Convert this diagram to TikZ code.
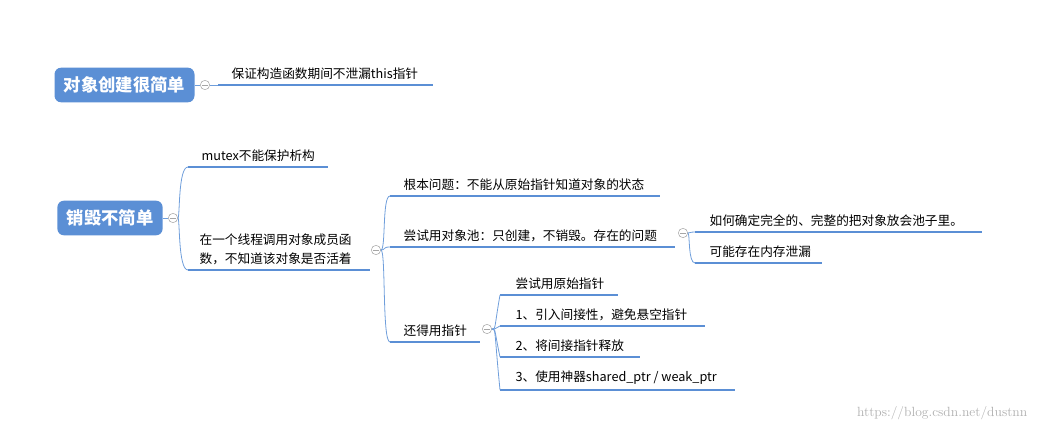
\documentclass[tikz,border=0pt]{standalone}
\usepackage{fontspec}
\newfontfamily\cjk{Noto Sans CJK SC}
\definecolor{mapblue}{HTML}{5B8FD5}
\definecolor{linkblue}{HTML}{6F9EDB}
\tikzset{
  root/.style={fill=mapblue, rounded corners=5pt, text=white, font=\cjk\bfseries\fontsize{13}{15}\selectfont, inner xsep=7pt, minimum height=26pt},
  leaf/.style={anchor=south west, font=\cjk\fontsize{9.5}{14}\selectfont, inner sep=1pt, align=left},
  uline/.style={draw=mapblue, line width=1.5pt},
  link/.style={draw=linkblue, line width=0.6pt},
  fold/.style={circle, draw=gray!70, fill=white, minimum size=7pt, inner sep=0pt,
    path picture={\draw[gray!70] ([xshift=-2pt]path picture bounding box.center) -- ([xshift=2pt]path picture bounding box.center);}}
}
\begin{document}
\begin{tikzpicture}[x=0.75pt, y=-0.75pt]
\useasboundingbox (0,0) rectangle (1040,435);

% first branch
\node[root] (create) at (124.5,85) {对象创建很简单};
\node[fold] (f1) at (205,85) {};
\draw[link] (create.east) -- (f1.west);
\coordinate (u0a) at (218,85); \coordinate (u0b) at (433,85);
\draw[link] (f1.east) -- (u0a);
\draw[uline] (u0a) -- (u0b);
\node[leaf] (keep) at (230,81) {保证构造函数期间不泄漏this指针};

% second branch
\node[root] (destroy) at (110,218) {销毁不简单};
\node[fold] (f2) at (173,218) {};
\draw[link] (destroy.east) -- (f2.west);

\coordinate (u1a) at (188,167); \coordinate (u1b) at (328,167);
\coordinate (u2a) at (188,270); \coordinate (u2b) at (370,270);
\draw[uline] (u1a) -- (u1b);
\draw[uline] (u2a) -- (u2b);
\draw[link] (f2.east) .. controls (180,218) and (178,167) .. (u1a);
\draw[link] (f2.east) .. controls (180,218) and (178,270) .. (u2a);
\node[leaf] (mutex) at (200,163) {mutex不能保护析构};
\node[leaf] (alive) at (198,266) {在一个线程调用对象成员函\\数，不知道该对象是否活着};

\node[fold] (f3) at (376,250) {};
\coordinate (u3a) at (390,196); \coordinate (u3b) at (660,196);
\coordinate (u4a) at (390,247); \coordinate (u4b) at (675,247);
\coordinate (u5a) at (390,342); \coordinate (u5b) at (480,342);
\foreach \a/\b in {u3a/u3b,u4a/u4b,u5a/u5b} \draw[uline] (\a) -- (\b);
\draw[link] (f3.east) .. controls (386,250) and (382,196) .. (u3a);
\draw[link] (f3.east) .. controls (386,250) and (382,247) .. (u4a);
\draw[link] (f3.east) .. controls (386,250) and (382,342) .. (u5a);
\node[leaf] (root) at (402,192) {根本问题：不能从原始指针知道对象的状态};
\node[leaf] (pool) at (402,243) {尝试用对象池：只创建，不销毁。存在的问题};
\node[leaf] (ptr) at (402,338) {还得用指针};

\node[fold] (f4) at (683,233) {};
\coordinate (u6a) at (695,232); \coordinate (u6b) at (982,232);
\coordinate (u7a) at (695,263); \coordinate (u7b) at (822,263);
\draw[uline] (u6a) -- (u6b);
\draw[uline] (u7a) -- (u7b);
\draw[link] (f4.east) .. controls (690,233) and (690,232) .. (u6a);
\draw[link] (f4.east) .. controls (690,233) and (688,263) .. (u7a);
\node[leaf] (whole) at (708,228) {如何确定完全的、完整的把对象放会池子里。};
\node[leaf] (leak) at (708,259) {可能存在内存泄漏};

\node[fold] (f5) at (487,329) {};
\coordinate (u8a) at (500,295); \coordinate (u8b) at (618,295);
\coordinate (u9a) at (500,326); \coordinate (u9b) at (705,326);
\coordinate (u10a) at (500,357); \coordinate (u10b) at (640,357);
\coordinate (u11a) at (500,390); \coordinate (u11b) at (735,390);
\foreach \a/\b in {u8a/u8b,u9a/u9b,u10a/u10b,u11a/u11b} {
  \draw[uline] (\a) -- (\b);
  \draw[link] (f5.east) .. controls (496,329) and (494,329) .. (\a);
}
\node[leaf] (raw) at (514,291) {尝试用原始指针};
\node[leaf] (step1) at (514,322) {1、引入间接性，避免悬空指针};
\node[leaf] (step2) at (514,353) {2、将间接指针释放};
\node[leaf] (step3) at (514,386) {3、使用神器shared\_ptr / weak\_ptr};

\node[anchor=east, text=gray!60, font=\fontsize{10}{12}\selectfont] (mark) at (1032,413) {https://blog.csdn.net/dustnn};
\end{tikzpicture}
\end{document}
